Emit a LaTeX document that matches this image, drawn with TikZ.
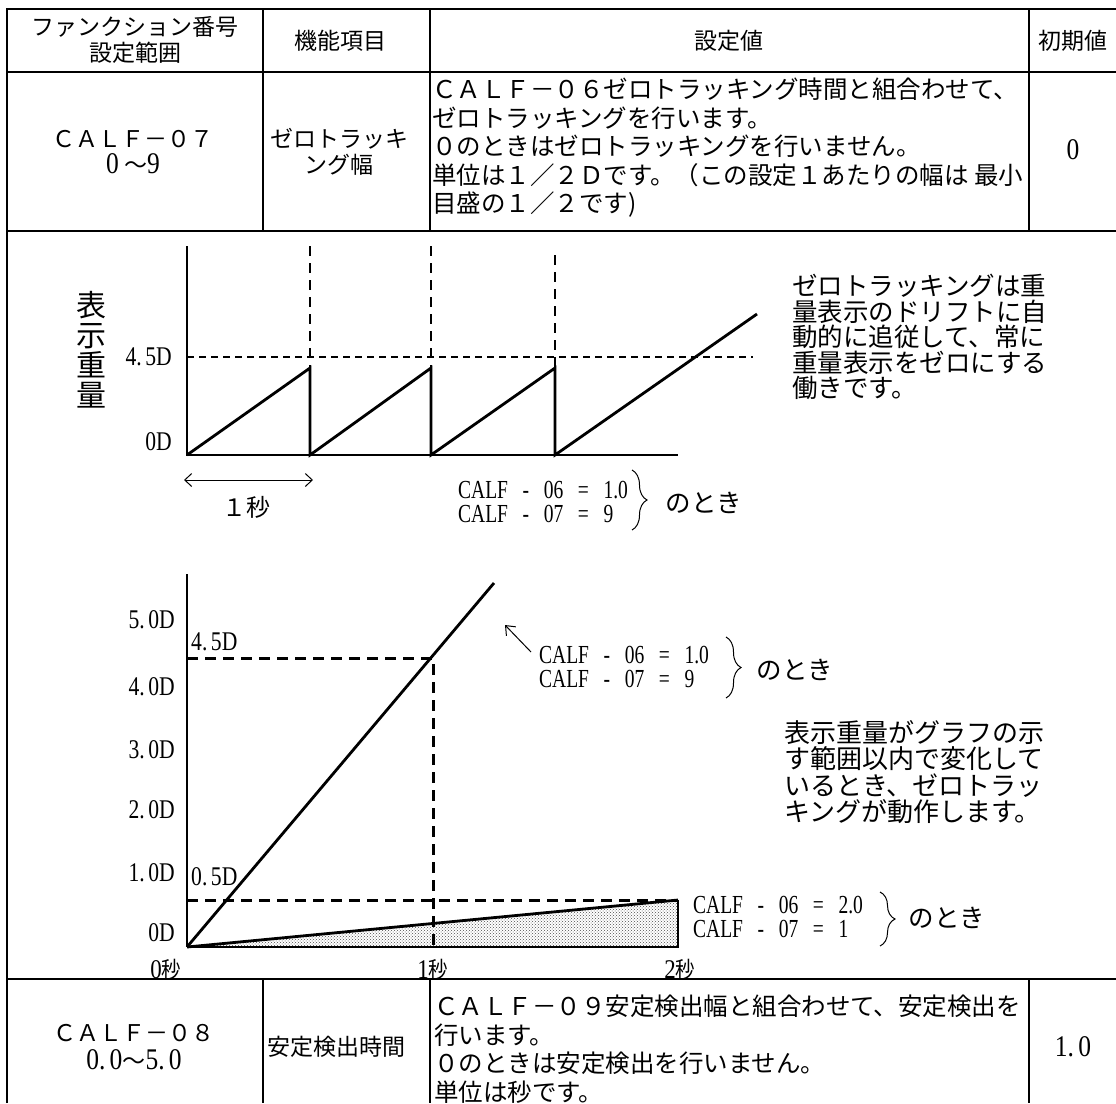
\documentclass[tikz,border=0pt]{standalone}
\usepackage{fontspec}
\usepackage{graphicx}
\setmainfont{Noto Sans CJK JP}
\newfontfamily\serifnum{Liberation Serif}
\usetikzlibrary{arrows.meta, positioning, patterns, decorations.pathreplacing}
\newcommand{\slimtext}[2][0.8]{\scalebox{#1}[1]{#2}}
\newcommand{\bignum}[1]{{\serifnum\fontsize{30}{30}\selectfont\slimtext[0.85]{#1}}}

\begin{document}
\begin{tikzpicture}[x=1pt, y=-1pt,
  cell/.style={inner sep=0pt, align=center, font=\fontsize{23}{26}\selectfont},
  para/.style={inner sep=0pt, align=left, anchor=west, font=\fontsize{24.5}{28.5}\selectfont},
  note/.style={inner sep=0pt, align=left, anchor=west, font=\fontsize{25.5}{25.5}\selectfont},
  numlbl/.style={inner sep=0pt, font=\serifnum\fontsize{27}{27}\selectfont},
  cond/.style={inner sep=0pt, align=left, anchor=west, font=\serifnum\fontsize{26}{24.5}\selectfont},
  when/.style={inner sep=0pt, font=\fontsize{25.5}{26}\selectfont},
  rule/.style={line width=2.6pt},
  trace/.style={line width=2.8pt, line join=miter},
  thin guide/.style={line width=1.3pt, dash pattern=on 10pt off 7pt},
  mid guide/.style={line width=1.6pt, dash pattern=on 7pt off 5pt},
  bold guide/.style={line width=3pt, dash pattern=on 11pt off 7pt},
  axis/.style={line width=1.2pt},
  barb/.style={line width=1pt, #1},
  curly/.style={decorate, decoration={brace, amplitude=15pt}, line width=1pt},
]
\useasboundingbox (0,0) rectangle (1116,1103);

% table
\draw[rule] (7,1103) -- (7,9) -- (1116,9);
\foreach \y in {72,231,979} \draw[rule] (7,\y) -- (1116,\y);
\foreach \x in {263,430,1029} {
  \draw[rule] (\x,9) -- (\x,231);
  \draw[rule] (\x,979) -- (\x,1103);
}

\node[cell] (hfunc) at (135,40) {ファンクション番号\\設定範囲};
\node[cell] (hitem) at (340,41) {機能項目};
\node[cell] (hval) at (729,41) {設定値};
\node[cell] (hinit) at (1073,41) {初期値};

\node[cell] (func07) at (133,152) {ＣＡＬＦ－０７\\\bignum{0}\ 〜\bignum{9}};
\node[cell] (item07) at (339,152) {ゼロトラッキ\\ング幅};
\node[para] (val07) at (432,148) {ＣＡＬＦ－０６ゼロトラッキング時間と組合わせて、\\ゼロトラッキングを行います。\\０のときはゼロトラッキングを行いません。\\単位は１／２Ｄです。（この設定１あたりの幅は 最小\\目盛の１／２です)};
\node[inner sep=0pt] (init07) at (1073,150) {\bignum{0}};

% upper graph
\draw[axis] (187,246) -- (187,455) -- (678,455);
\foreach \x/\t in {310/246, 431/246, 555/255} \draw[thin guide] (\x,\t) -- (\x,368);
\draw[mid guide] (187,357) -- (753,357);
\draw[trace] (187,455) -- (310,368) -- (310,455) -- (431,368) -- (431,455)
  -- (555,368) -- (555,455) -- (757,314);
\node[inner sep=0pt, align=center, font=\fontsize{30}{30}\selectfont] (yname) at (91,350) {表\\示\\重\\量};
\node[numlbl, anchor=east] (u45) at (172,357) {\slimtext{4.\,5D}};
\node[numlbl, anchor=east] (u0) at (172,442) {\slimtext{0D}};
\coordinate (span0) at (184,480);
\coordinate (span1) at (313,480);
\draw[barb={{Straight Barb[length=7pt, width=13pt]}-{Straight Barb[length=7pt, width=13pt]}}] (span0) -- (span1);
\node[inner sep=0pt, font=\fontsize{24}{24}\selectfont] (onesec) at (246,507) {１秒};
\node[cond] (condA) at (458,502) {\slimtext[0.75]{CALF\ \ \ -\ \ \ 06\ \ \ =\ \ \ 1.0}\\\slimtext[0.75]{CALF\ \ \ -\ \ \ 07\ \ \ =\ \ \ 9}};
\draw[curly] (632,470) -- (632,530);
\node[when] (whenA) at (704,503) {のとき};
\node[note] (noteA) at (792,337) {ゼロトラッキングは重\\量表示のドリフトに自\\動的に追従して、常に\\重量表示をゼロにする\\働きです。};

% lower graph
\draw[axis] (187,574) -- (187,947);
\fill[pattern=crosshatch dots, pattern color=black!70] (187,947) -- (678,900) -- (678,947) -- cycle;
\draw[axis] (187,947) -- (678,947) -- (678,900);
\draw[bold guide] (187,658) -- (433,658) -- (433,947);
\draw[bold guide] (187,900) -- (678,900);
\draw[trace] (187,947) -- (494,583);
\draw[trace] (187,947) -- (678,900);
\foreach \v/\y [count=\i] in {5.\,0D/620, 4.\,0D/687, 3.\,0D/750, 2.\,0D/810, 1.\,0D/873, 0D/933}
  \node[numlbl, anchor=east] (tick\i) at (175,\y) {\slimtext{\v}};
\node[numlbl, anchor=west] (l45) at (191,642) {\slimtext{4.\,5D}};
\node[numlbl, anchor=west] (l05) at (191,877) {\slimtext{0.\,5D}};
\node[cond] (condB) at (539,667) {\slimtext[0.75]{CALF\ \ \ -\ \ \ 06\ \ \ =\ \ \ 1.0}\\\slimtext[0.75]{CALF\ \ \ -\ \ \ 07\ \ \ =\ \ \ 9}};
\coordinate (ptrtail) at (531,652);
\coordinate (ptrhead) at (505,625);
\draw[barb=-{Straight Barb[length=8pt, width=13pt]}] (ptrtail) -- (ptrhead);
\draw[curly] (726,637) -- (726,698);
\node[when] (whenB) at (795,670) {のとき};
\node[note, font=\fontsize{26}{26.5}\selectfont] (noteB) at (784,772) {表示重量がグラフの示\\す範囲以内で変化して\\いるとき、ゼロトラッ\\キングが動作します。};
\node[cond] (condC) at (693,917) {\slimtext[0.75]{CALF\ \ \ -\ \ \ 06\ \ \ =\ \ \ 2.0}\\\slimtext[0.75]{CALF\ \ \ -\ \ \ 07\ \ \ =\ \ \ 1}};
\draw[curly] (880,892) -- (880,946);
\node[when] (whenC) at (947,918) {のとき};
\foreach \t/\x [count=\i] in {0/166, 1/433, 2/680}
  \node[inner sep=0pt, font=\fontsize{23}{23}\selectfont] (sec\i) at (\x,970) {\slimtext[0.85]{{\serifnum\fontsize{27}{27}\selectfont\t}秒}};

% bottom row
\node[cell, font=\fontsize{23}{28}\selectfont] (func08) at (134,1047) {ＣＡＬＦ－０８\\\bignum{0.\,0}〜\bignum{5.\,0}};
\node[cell, anchor=west] (item08) at (267,1047) {安定検出時間};
\node[para] (val08) at (434,1049) {ＣＡＬＦ－０９安定検出幅と組合わせて、安定検出を\\行います。\\０のときは安定検出を行いません。\\単位は秒です。};
\node[inner sep=0pt] (init08) at (1073,1047) {\bignum{1.\,0}};
\end{tikzpicture}
\end{document}
